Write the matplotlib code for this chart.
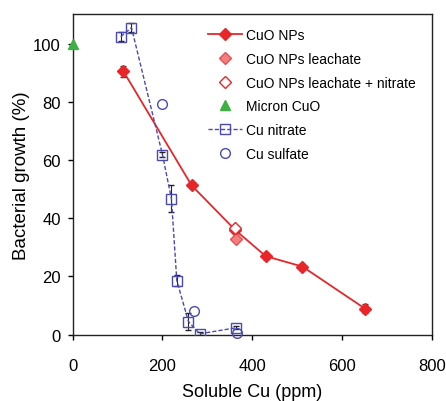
import matplotlib
matplotlib.use("Agg")
import matplotlib.pyplot as plt

plt.rcParams['font.family'] = ['Liberation Sans', 'DejaVu Sans']

# Data
cuo_np_x = [113, 265, 362, 430, 512, 652]
cuo_np_y = [90.5, 51.3, 36.0, 27.0, 23.4, 8.9]
cuo_np_err = [2.0, 1.0, 1.0, 1.0, 1.0, 1.5]

leach_x = [365]
leach_y = [33.0]

leach_nit_x = [361]
leach_nit_y = [36.8]

micron_x = [0]
micron_y = [100]

nit_x = [107, 131, 200, 220, 232, 258, 283, 365]
nit_y = [102.4, 105.5, 61.9, 46.7, 18.6, 4.5, 0.3, 2.4]
nit_err = [1.5, 1.5, 1.0, 4.6, 2.0, 3.0, 0.5, 0.5]

sulf_x = [200, 270, 367]
sulf_y = [79.4, 8.2, 0.7]

red = '#e8262a'
blue = '#4a4ab0'
green = '#3cb043'

fig = plt.figure(figsize=(4.46, 4.02), dpi=100)
ax = fig.add_axes([72.7/446, 1-335.7/402, (431.7-72.7)/446, (335.7-14.7)/402])

ax.errorbar(cuo_np_x, cuo_np_y, yerr=cuo_np_err, color=red, lw=1.3, marker='D',
            ms=6, mfc=red, mec=red, ecolor='#333333', elinewidth=0.8, capsize=2,
            zorder=3)
h1, = ax.plot([], [], color=red, lw=1.3, marker='D', ms=6, mfc=red, mec=red)
h2, = ax.plot(leach_x, leach_y, ls='none', marker='D', ms=6, mfc='#f08080', mec='#e85050',
              mew=1.0, zorder=4)
h3, = ax.plot(leach_nit_x, leach_nit_y, ls='none', marker='D', ms=6, mfc='white', mec=red,
              mew=1.0, zorder=4)
h4, = ax.plot(micron_x, micron_y, ls='none', marker='^', ms=7, mfc=green, mec=green,
              zorder=5, clip_on=False)
ax.errorbar(nit_x, nit_y, yerr=nit_err, color=blue, lw=1.0, ls='--', marker='s',
            ms=7, mfc='none', mec=blue, mew=1.0, ecolor='#222222', elinewidth=0.8,
            capsize=2, zorder=3, dashes=(3, 1.5))
h5, = ax.plot([], [], color=blue, lw=1.0, ls='--', marker='s', ms=7, mfc='none',
              mec=blue, mew=1.0, dashes=(3, 1.5))
h6, = ax.plot(sulf_x, sulf_y, ls='none', marker='o', ms=7, mfc='none', mec=blue, mew=1.0,
              zorder=3, clip_on=False)

labels = ['CuO NPs', 'CuO NPs leachate', 'CuO NPs leachate + nitrate',
          'Micron CuO', 'Cu nitrate', 'Cu sulfate']

ax.set_xlim(0, 800)
ax.set_ylim(0, 110.3)
ax.set_xticks([0, 200, 400, 600, 800])
ax.set_yticks([0, 20, 40, 60, 80, 100])
ax.tick_params(direction='out', length=3.5, width=1, labelsize=12, colors='black')
ax.tick_params(axis='x', pad=13)
ax.tick_params(axis='y', pad=5)
for s in ax.spines.values():
    s.set_linewidth(1.0)
    s.set_color('#222222')

ax.set_xlabel('Soluble Cu (ppm)', fontsize=13)
ax.set_ylabel('Bacterial growth (%)', fontsize=13.5)
ax.xaxis.set_label_coords(0.5, -0.151)
ax.yaxis.set_label_coords(-0.12, 0.5)

leg = ax.legend([h1, h2, h3, h4, h5, h6], labels, loc='upper left',
                bbox_to_anchor=(0.377, 0.955), frameon=False, borderpad=0,
                borderaxespad=0, fontsize=10, handlelength=2.45,
                handletextpad=0.25, labelspacing=0.7)

fig.savefig('out.png', dpi=100)
